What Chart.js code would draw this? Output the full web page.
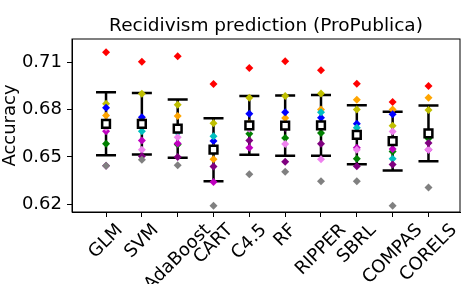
<!DOCTYPE html>
<html lang="en">
<head>
    <meta charset="UTF-8">
    <title>Recidivism prediction (ProPublica)</title>
    <script src="https://cdn.jsdelivr.net/npm/chart.js"></script>
    <style>
        body { margin: 0; background: #fff; }
        canvas { display: block; }
    </style>
</head>
<body>
    <canvas id="accuracy-chart" width="468" height="284"></canvas>

    <script>
        const methods = ['GLM', 'SVM', 'AdaBoost', 'CART', 'C4.5', 'RF', 'RIPPER', 'SBRL', 'COMPAS', 'CORELS'];
        const yTicks = [0.62, 0.65, 0.68, 0.71];

        // mean and std over the 10 folds (square + error bar)
        const meanAcc = [0.6711, 0.6711, 0.6680, 0.6546, 0.6701, 0.6699, 0.6701, 0.6641, 0.6601, 0.6650];
        const stdAcc  = [0.0200, 0.0195, 0.0185, 0.0200, 0.0187, 0.0192, 0.0193, 0.0188, 0.0187, 0.0177];

        // accuracy of each fold, one array per fold colour
        const foldRed     = [0.7166, 0.7106, 0.7140, 0.6964, 0.7066, 0.7108, 0.7051, 0.6966, 0.6849, 0.6951];
        const foldOrange  = [0.6764, 0.6740, 0.6760, 0.6486, 0.6715, 0.6747, 0.6801, 0.6864, 0.6801, 0.6877];
        const foldOlive   = [0.6839, 0.6902, 0.6832, 0.6715, 0.6877, 0.6887, 0.6903, 0.6801, 0.6699, 0.6798];
        const foldBlue    = [0.6813, 0.6753, 0.6675, 0.6601, 0.6775, 0.6785, 0.6750, 0.6711, 0.6771, 0.6640];
        const foldCyan    = [0.6705, 0.6664, 0.6655, 0.6631, 0.6695, 0.6700, 0.6785, 0.6686, 0.6489, 0.6630];
        const foldGreen   = [0.6584, 0.6720, 0.6579, 0.6540, 0.6648, 0.6620, 0.6652, 0.6489, 0.6535, 0.6618];
        const foldMagenta = [0.6664, 0.6605, 0.6586, 0.6340, 0.6559, 0.6686, 0.6700, 0.6559, 0.6550, 0.6546];
        const foldViolet  = [0.6687, 0.6546, 0.6626, 0.6555, 0.6680, 0.6582, 0.6486, 0.6546, 0.6662, 0.6546];
        const foldPurple  = [0.6444, 0.6505, 0.6499, 0.6439, 0.6605, 0.6469, 0.6584, 0.6441, 0.6452, 0.6588];
        const foldGray    = [0.6444, 0.6482, 0.6448, 0.6189, 0.6390, 0.6406, 0.6346, 0.6346, 0.6189, 0.6306];

        const folds = [
            { color: '#ff0000', values: foldRed },
            { color: '#ffa500', values: foldOrange },
            { color: '#bfbf00', values: foldOlive },
            { color: '#0000ff', values: foldBlue },
            { color: '#00bfbf', values: foldCyan },
            { color: '#008000', values: foldGreen },
            { color: '#bf00bf', values: foldMagenta },
            { color: '#ee82ee', values: foldViolet },
            { color: '#800080', values: foldPurple },
            { color: '#808080', values: foldGray }
        ];

        const FONT = "'DejaVu Sans', sans-serif";

        // black mean +/- std bars, drawn under the points
        const errorBars = {
            id: 'errorBars',
            beforeDatasetsDraw(chart) {
                const { ctx, scales: { x, y } } = chart;
                ctx.save();
                ctx.strokeStyle = '#000';
                ctx.lineWidth = 2.5;
                methods.forEach((m, i) => {
                    const px = x.getPixelForValue(i);
                    const top = y.getPixelForValue(meanAcc[i] + stdAcc[i]);
                    const bottom = y.getPixelForValue(meanAcc[i] - stdAcc[i]);
                    ctx.beginPath();
                    ctx.moveTo(px, top);
                    ctx.lineTo(px, bottom);
                    ctx.moveTo(px - 10, top);
                    ctx.lineTo(px + 10, top);
                    ctx.moveTo(px - 10, bottom);
                    ctx.lineTo(px + 10, bottom);
                    ctx.stroke();
                });
                ctx.restore();
            }
        };

        // full box around the plot area + 45deg method labels centred under each tick
        const frameAndLabels = {
            id: 'frameAndLabels',
            afterDraw(chart) {
                const { ctx, chartArea: a, scales: { x } } = chart;
                ctx.save();
                ctx.strokeStyle = '#000';
                ctx.lineWidth = 1;
                ctx.strokeRect(a.left, a.top, a.right - a.left, a.bottom - a.top);

                ctx.font = '18px ' + FONT;
                ctx.fillStyle = '#000';
                ctx.textAlign = 'center';
                ctx.textBaseline = 'middle';
                const lineH = 21;
                const top = a.bottom + 5 + 3;
                methods.forEach((m, i) => {
                    const w = ctx.measureText(m).width;
                    const boxH = (w + lineH) * Math.SQRT1_2;
                    ctx.save();
                    ctx.translate(x.getPixelForValue(i), top + boxH / 2);
                    ctx.rotate(-Math.PI / 4);
                    ctx.fillText(m, 0, 0);
                    ctx.restore();
                });
                ctx.restore();
            }
        };

        const datasets = [{
            label: 'mean',
            data: meanAcc.map((v, i) => ({ x: i, y: v })),
            pointStyle: 'rect',
            pointRadius: 5.5,
            backgroundColor: '#fff',
            borderColor: '#000',
            borderWidth: 2.5,
            order: 0
        }];
        folds.forEach((f, k) => {
            datasets.push({
                label: 'fold ' + (k + 1),
                data: f.values.map((v, i) => ({ x: i, y: v })),
                pointStyle: 'rectRot',
                pointRadius: 4,
                backgroundColor: f.color,
                borderColor: f.color,
                borderWidth: 0,
                order: folds.length - k
            });
        });

        new Chart(document.getElementById('accuracy-chart'), {
            type: 'scatter',
            data: { datasets: datasets },
            plugins: [errorBars, frameAndLabels],
            options: {
                responsive: false,
                animation: false,
                layout: { padding: { left: 0, right: 1, top: 0, bottom: 0 } },
                plugins: {
                    legend: { display: false },
                    tooltip: { enabled: false },
                    title: {
                        display: true,
                        fullSize: false,
                        text: 'Recidivism prediction (ProPublica)',
                        color: '#000',
                        font: { family: FONT, size: 18.5, weight: 'normal' },
                        padding: { top: 15, bottom: 1.8 }
                    }
                },
                scales: {
                    x: {
                        type: 'linear',
                        min: -0.95,
                        max: 9.88,
                        afterBuildTicks: s => { s.ticks = methods.map((m, i) => ({ value: i })); },
                        afterFit: s => { s.height = 72; },
                        ticks: { display: false },
                        grid: { drawOnChartArea: false, drawTicks: true, tickLength: 5, tickColor: '#000' },
                        border: { color: '#000', width: 1 }
                    },
                    y: {
                        min: 0.615,
                        max: 0.725,
                        afterBuildTicks: s => { s.ticks = yTicks.map(v => ({ value: v })); },
                        afterFit: s => { s.width = 72; },
                        ticks: {
                            callback: v => v.toFixed(2),
                            padding: 5,
                            color: '#000',
                            font: { family: FONT, size: 18 }
                        },
                        grid: { drawOnChartArea: false, tickLength: 5, tickColor: '#000' },
                        border: { color: '#000', width: 1 },
                        title: {
                            display: true,
                            text: 'Accuracy',
                            color: '#000',
                            font: { family: FONT, size: 18 },
                            padding: 0
                        }
                    }
                }
            }
        });
    </script>
</body>
</html>
